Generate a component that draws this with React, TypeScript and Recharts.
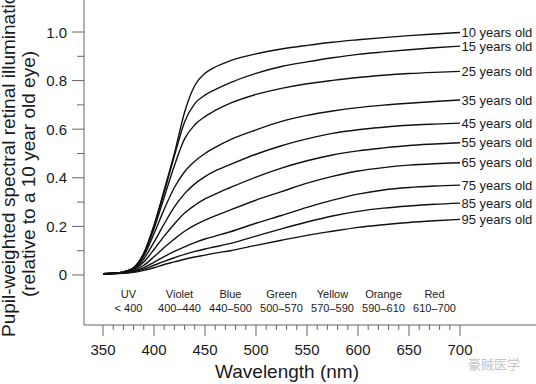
import React from "react";
import { LineChart, Line, XAxis, YAxis, ReferenceDot } from "recharts";

const wavelengths = [350, 360, 370, 380, 390, 400, 410, 420, 430, 440, 450, 460, 475, 500, 525, 550, 575, 600, 625, 650, 675, 700];

const age10 = [0.005, 0.007, 0.013, 0.03, 0.09, 0.205, 0.35, 0.5, 0.67, 0.78, 0.83, 0.856, 0.882, 0.91, 0.93, 0.945, 0.958, 0.968, 0.977, 0.985, 0.992, 0.998];
const age15 = [0.005, 0.007, 0.013, 0.03, 0.088, 0.2, 0.34, 0.49, 0.63, 0.705, 0.74, 0.763, 0.792, 0.83, 0.858, 0.877, 0.894, 0.908, 0.918, 0.927, 0.935, 0.942];
const age25 = [0.005, 0.007, 0.013, 0.029, 0.085, 0.19, 0.32, 0.45, 0.56, 0.618, 0.652, 0.677, 0.707, 0.743, 0.768, 0.787, 0.801, 0.813, 0.822, 0.829, 0.834, 0.838];
const age35 = [0.005, 0.007, 0.012, 0.027, 0.078, 0.17, 0.27, 0.36, 0.425, 0.468, 0.5, 0.525, 0.557, 0.597, 0.632, 0.657, 0.675, 0.689, 0.699, 0.707, 0.714, 0.72];
const age45 = [0.005, 0.006, 0.011, 0.024, 0.066, 0.135, 0.21, 0.28, 0.335, 0.375, 0.405, 0.428, 0.455, 0.497, 0.532, 0.56, 0.583, 0.598, 0.608, 0.616, 0.621, 0.625];
const age55 = [0.005, 0.006, 0.01, 0.021, 0.053, 0.105, 0.16, 0.21, 0.255, 0.287, 0.313, 0.333, 0.36, 0.403, 0.44, 0.47, 0.494, 0.511, 0.523, 0.533, 0.539, 0.544];
const age65 = [0.005, 0.006, 0.009, 0.018, 0.04, 0.075, 0.113, 0.148, 0.18, 0.205, 0.226, 0.243, 0.268, 0.308, 0.343, 0.378, 0.406, 0.428, 0.442, 0.452, 0.458, 0.462];
const age75 = [0.005, 0.006, 0.008, 0.015, 0.03, 0.052, 0.076, 0.097, 0.116, 0.133, 0.148, 0.16, 0.178, 0.213, 0.245, 0.278, 0.308, 0.333, 0.35, 0.36, 0.366, 0.37];
const age85 = [0.005, 0.006, 0.008, 0.013, 0.024, 0.04, 0.056, 0.071, 0.085, 0.097, 0.107, 0.116, 0.13, 0.16, 0.19, 0.218, 0.243, 0.262, 0.275, 0.284, 0.291, 0.296];
const age95 = [0.005, 0.006, 0.007, 0.011, 0.019, 0.03, 0.043, 0.054, 0.065, 0.074, 0.082, 0.09, 0.1, 0.122, 0.143, 0.163, 0.18, 0.196, 0.207, 0.216, 0.223, 0.229];

const seriesNames = ["10 years old", "15 years old", "25 years old", "35 years old", "45 years old", "55 years old", "65 years old", "75 years old", "85 years old", "95 years old"];
const seriesValues = [age10, age15, age25, age35, age45, age55, age65, age75, age85, age95];

const bandNames = ["UV", "Violet", "Blue", "Green", "Yellow", "Orange", "Red"];
const bandRanges = ["< 400", "400–440", "440–500", "500–570", "570–590", "590–610", "610–700"];
const bandCenters = [375, 425, 475, 525, 575, 625, 675];

const xTicks = [350, 360, 370, 380, 390, 400, 410, 420, 430, 440, 450, 460, 470, 480, 490, 500, 510, 520, 530, 540, 550, 560, 570, 580, 590, 600, 610, 620, 630, 640, 650, 660, 670, 680, 690, 700];
const yTicks = [0, 0.1, 0.2, 0.3, 0.4, 0.5, 0.6, 0.7, 0.8, 0.9, 1.0];

const data = wavelengths.map((w, i) => {
  const row: Record<string, number> = { w };
  seriesValues.forEach((s, k) => (row["s" + k] = s[i]));
  return row;
});

const FONT = '"Liberation Sans", Arial, Helvetica, sans-serif';
const INK = "#1a1a1a";
const AXIS = "#666";

function XTick({ x, y, payload }: any) {
  const major = payload.value % 50 === 0;
  return (
    <g>
      <line x1={x} x2={x} y1={y} y2={y + (major ? 11 : 5)} stroke={AXIS} />
      {major ? (
        <text x={x} y={y + 30} textAnchor="middle" fontSize={15} fill={INK} fontFamily={FONT}>
          {payload.value}
        </text>
      ) : null}
    </g>
  );
}

function YTick({ x, y, payload }: any) {
  const v = payload.value;
  const major = Math.round(v * 10) % 2 === 0;
  return (
    <g>
      <line x1={x} x2={x - (major ? 12 : 7)} y1={y} y2={y} stroke={AXIS} />
      {major ? (
        <text x={67} y={y + 5.5} textAnchor="end" fontSize={15} fill={INK} fontFamily={FONT}>
          {v === 0 ? "0" : v.toFixed(1)}
        </text>
      ) : null}
    </g>
  );
}

const YTitle = () => (
  <g fontFamily={FONT} fill={INK} fontSize={19}>
    <text x={15} y={337} textAnchor="start" transform="rotate(-90 15 337)">
      Pupil-weighted spectral retinal illumination
    </text>
    <text x={35} y={174} textAnchor="middle" transform="rotate(-90 35 174)">
      (relative to a 10 year old eye)
    </text>
  </g>
);

const XTitle = () => (
  <g fontFamily={FONT}>
    <text x={287} y={378} textAnchor="middle" fontSize={19} fill={INK}>
      Wavelength (nm)
    </text>
    <text x={468} y={369} fontSize={13} fill="#c4c4c4" fontFamily='"Noto Sans CJK SC", sans-serif'>
      豪贼医学
    </text>
  </g>
);

export default function App() {
  return (
    <div style={{ position: "absolute", left: 0, top: 0, background: "#fff" }}>
      <LineChart width={536} height={384} data={data} margin={{ top: 0, right: 0, bottom: 0, left: 0 }} style={{ fontFamily: FONT }}>
        <XAxis
          dataKey="w"
          type="number"
          domain={[331.4, 774.5]}
          ticks={xTicks}
          interval={0}
          height={59}
          tickSize={0}
          tickMargin={0}
          tickLine={false}
          tick={<XTick />}
          axisLine={{ stroke: AXIS }}
          allowDataOverflow
          label={{ content: <XTitle /> }}
        />
        <YAxis
          type="number"
          domain={[-0.2058, 1.1317]}
          ticks={yTicks}
          interval={0}
          width={84}
          tickSize={0}
          tickMargin={0}
          tickLine={false}
          tick={<YTick />}
          axisLine={{ stroke: AXIS }}
          allowDataOverflow
          label={{ content: <YTitle /> }}
        />
        {seriesValues.map((s, k) => (
          <Line
            key={k}
            dataKey={"s" + k}
            type="monotone"
            stroke="#111"
            strokeWidth={1.4}
            dot={false}
            isAnimationActive={false}
          />
        ))}
        {seriesValues.map((s, k) => (
          <ReferenceDot
            key={"lab" + k}
            x={wavelengths[wavelengths.length - 1]}
            y={s[s.length - 1]}
            r={0}
            ifOverflow="visible"
            shape={(p: any) => (
              <text x={p.cx + 1.5} y={p.cy + 4.5} fontSize={13} fill={INK} fontFamily={FONT}>
                {seriesNames[k]}
              </text>
            )}
          />
        ))}
        {bandCenters.map((c, k) => (
          <ReferenceDot
            key={"band" + k}
            x={c}
            y={-0.09}
            r={0}
            ifOverflow="visible"
            shape={(p: any) => (
              <g fontSize={11} fill={INK} fontFamily={FONT} textAnchor="middle">
                <text x={p.cx} y={298}>{bandNames[k]}</text>
                <text x={p.cx} y={312}>{bandRanges[k]}</text>
              </g>
            )}
          />
        ))}
      </LineChart>
    </div>
  );
}
